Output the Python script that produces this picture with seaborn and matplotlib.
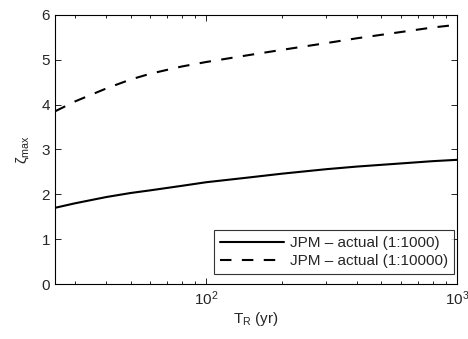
import numpy as np
import pandas as pd
import seaborn as sns
import matplotlib
matplotlib.use("Agg")
import matplotlib.pyplot as plt
from matplotlib.ticker import LogLocator, NullFormatter

# data
T_R = [25, 30, 40, 50, 60, 80, 100, 150, 200, 300, 400, 600, 800, 1000]
zeta_1000 = [1.70, 1.80, 1.94, 2.03, 2.09, 2.19, 2.27, 2.38, 2.46, 2.56, 2.62, 2.69, 2.74, 2.77]
zeta_10000 = [3.85, 4.07, 4.36, 4.56, 4.69, 4.85, 4.95, 5.11, 5.22, 5.37, 5.48, 5.62, 5.72, 5.78]
labels = ["JPM – actual (1:1000)", "JPM – actual (1:10000)"]

df = pd.concat([
    pd.DataFrame({"T": T_R, "zeta": zeta_1000, "case": labels[0]}),
    pd.DataFrame({"T": T_R, "zeta": zeta_10000, "case": labels[1]}),
])

sns.set_style("ticks")
plt.rcParams["font.family"] = ["Liberation Sans", "DejaVu Sans"]
plt.rcParams["mathtext.fontset"] = "custom"
plt.rcParams["mathtext.rm"] = "Liberation Sans"
plt.rcParams["mathtext.it"] = "Liberation Sans"

fig = plt.figure(figsize=(4.68, 3.39), dpi=100)
ax = fig.add_axes([0.1175, 0.162, 0.859, 0.794])

sns.lineplot(data=df, x="T", y="zeta", hue="case", style="case",
             palette=["black", "black"], dashes=["", (5.5, 5)],
             linewidth=1.5, ax=ax)

ax.set_xscale("log")
ax.set_xlim(25, 1000)
ax.set_ylim(0, 6)
ax.set_yticks(range(0, 7))
ax.xaxis.set_major_locator(LogLocator(base=10, numticks=10))
ax.xaxis.set_minor_locator(LogLocator(base=10, subs=np.arange(2, 10), numticks=20))
ax.xaxis.set_minor_formatter(NullFormatter())
ax.set_xlabel(r"$\mathregular{T_R}$ (yr)", fontsize=11, labelpad=2)
ax.set_ylabel(r"$\mathregular{\zeta_{max}}$", fontsize=11, labelpad=8)

ax.tick_params(which="both", direction="in", bottom=True, left=True,
               top=True, right=True, labelsize=11, color="black")
ax.tick_params(which="major", length=4, width=0.6)
ax.tick_params(which="minor", length=2.5, width=0.6)
for s in ax.spines.values():
    s.set_visible(True)
    s.set_color("black")
    s.set_linewidth(0.8)

leg = ax.legend(loc="lower right", bbox_to_anchor=(0.993, 0.037),
                fontsize=11, handlelength=4.2, handletextpad=0.4,
                frameon=True, fancybox=False, borderaxespad=0,
                labelspacing=0.25, borderpad=0.4)
leg.get_frame().set_edgecolor("black")
leg.get_frame().set_linewidth(0.8)

fig.savefig("out.png", dpi=100)
